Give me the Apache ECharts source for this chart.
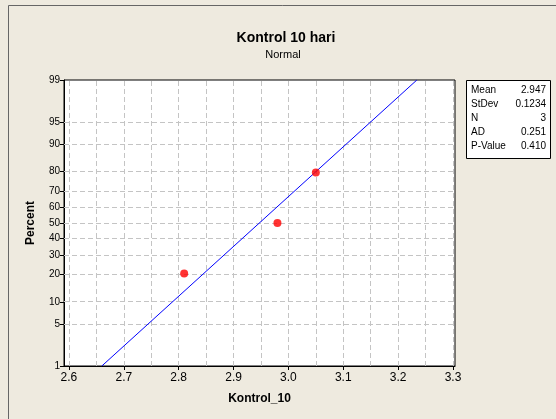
<!DOCTYPE html>
<html>
<head>
<meta charset="utf-8">
<script src="https://cdn.jsdelivr.net/npm/echarts@6/dist/echarts.min.js"></script>
<style>
  html, body { margin: 0; padding: 0; background: #EEEADF; }
  #chart { width: 556px; height: 419px; }
</style>
</head>
<body>
<div id="chart"></div>
<script>
// Normal probability plot of Kontrol_10
const chartTitle = 'Kontrol 10 hari';
const chartSubtitle = 'Normal';
const sampleX = [2.81, 2.98, 3.05];
const samplePct = [20.6, 50.0, 79.4];
const pctTicks = [1, 5, 10, 20, 30, 40, 50, 60, 70, 80, 90, 95, 99];
const xTicks = [2.6, 2.7, 2.8, 2.9, 3.0, 3.1, 3.2, 3.3];
const xGridLines = [2.6, 2.65, 2.7, 2.75, 2.8, 2.85, 2.9, 2.95, 3.0, 3.05, 3.1, 3.15, 3.2, 3.25, 3.3];
const statNames = ['Mean', 'StDev', 'N', 'AD', 'P-Value'];
const statValues = ['2.947', '0.1234', '3', '0.251', '0.410'];
const fitMean = 2.947;
const fitStDev = 0.1234;

// Inverse standard normal CDF (Acklam's rational approximation)
function probit(p) {
  const a = [-3.969683028665376e+01, 2.209460984245205e+02, -2.759285104469687e+02,
             1.383577518672690e+02, -3.066479806614716e+01, 2.506628277459239e+00];
  const b = [-5.447609879822406e+01, 1.615858368580409e+02, -1.556989798598866e+02,
             6.680131188771972e+01, -1.328068155288572e+01];
  const c = [-7.784894002430293e-03, -3.223964580411365e-01, -2.400758277161838e+00,
             -2.549732539343734e+00, 4.374664141464968e+00, 2.938163982698783e+00];
  const d = [7.784695709041462e-03, 3.224671290700398e-01, 2.445134137142996e+00,
             3.754408661907416e+00];
  const pl = 0.02425;
  let q, r;
  if (p < pl) {
    q = Math.sqrt(-2 * Math.log(p));
    return (((((c[0]*q+c[1])*q+c[2])*q+c[3])*q+c[4])*q+c[5]) /
           ((((d[0]*q+d[1])*q+d[2])*q+d[3])*q+1);
  }
  if (p > 1 - pl) {
    q = Math.sqrt(-2 * Math.log(1 - p));
    return -(((((c[0]*q+c[1])*q+c[2])*q+c[3])*q+c[4])*q+c[5]) /
            ((((d[0]*q+d[1])*q+d[2])*q+d[3])*q+1);
  }
  q = p - 0.5;
  r = q * q;
  return (((((a[0]*r+a[1])*r+a[2])*r+a[3])*r+a[4])*r+a[5])*q /
         (((((b[0]*r+b[1])*r+b[2])*r+b[3])*r+b[4])*r+1);
}
const z = pct => probit(pct / 100);

const yTickVals = pctTicks.map(z);
const yMin = z(pctTicks[0]);
const yMax = z(pctTicks[pctTicks.length - 1]);
const fitLine = [
  [fitMean + yMin * fitStDev, yMin],
  [fitMean + yMax * fitStDev, yMax]
];
const points = sampleX.map((x, i) => [x, z(samplePct[i])]);

const font = '"Liberation Sans", Arial, sans-serif';
const gridStyle = { color: '#c4c4c4', type: [5, 3], width: 1 };

const gridMarks = [];
xGridLines.forEach(v => gridMarks.push({ xAxis: v }));
pctTicks.slice(1, -1).forEach(p => gridMarks.push({ yAxis: z(p) }));

const statGraphics = [];
statNames.forEach((n, i) => {
  statGraphics.push({
    type: 'text', left: 471, top: 85 + i * 14,
    style: { text: n, font: '10px ' + font, fill: '#000' }, z: 10
  });
  statGraphics.push({
    type: 'text', right: 10, top: 85 + i * 14,
    style: { text: statValues[i], font: '10px ' + font, fill: '#000' }, z: 10
  });
});

const chart = echarts.init(document.getElementById('chart'), null, { renderer: 'canvas' });
chart.setOption({
  backgroundColor: '#EEEADF',
  animation: false,
  grid: {
    left: 64, top: 80, right: 101, bottom: 53,
    show: true, backgroundColor: '#ffffff', borderColor: '#000', borderWidth: 1
  },
  xAxis: {
    type: 'value', min: 2.591, max: 3.3036,
    name: 'Kontrol_10', nameLocation: 'middle', nameGap: 27,
    nameTextStyle: { fontFamily: font, fontWeight: 'bold', fontSize: 12, color: '#000' },
    axisLine: { onZero: false, lineStyle: { color: '#000' } },
    axisTick: { show: true, length: 4, customValues: xTicks, lineStyle: { color: '#000' } },
    axisLabel: { customValues: xTicks, formatter: v => v.toFixed(1),
      fontFamily: font, fontSize: 12, color: '#000', margin: 6 },
    splitLine: { show: false }
  },
  yAxis: {
    type: 'value', min: yMin, max: yMax,
    name: 'Percent', nameLocation: 'middle', nameGap: 27,
    nameTextStyle: { fontFamily: font, fontWeight: 'bold', fontSize: 12, color: '#000' },
    axisLine: { onZero: false, lineStyle: { color: '#000' } },
    axisTick: { show: true, length: 4, customValues: yTickVals, lineStyle: { color: '#000' } },
    axisLabel: {
      customValues: yTickVals,
      formatter: v => {
        let best = 0;
        yTickVals.forEach((t, i) => { if (Math.abs(t - v) < Math.abs(yTickVals[best] - v)) best = i; });
        return String(pctTicks[best]);
      },
      fontFamily: font, fontSize: 10, color: '#000', margin: 4
    },
    splitLine: { show: false }
  },
  series: [
    {
      type: 'line', data: fitLine, symbol: 'none', silent: true,
      lineStyle: { color: '#0000ff', width: 1 }, z: 3,
      markLine: {
        silent: true, symbol: 'none', label: { show: false },
        lineStyle: gridStyle, data: gridMarks, z: 1
      }
    },
    {
      type: 'scatter', data: points, symbol: 'circle', symbolSize: 8,
      itemStyle: { color: '#ff0000' }, z: 4
    }
  ],
  graphic: [
    { type: 'rect', shape: { x: 8.5, y: 5.5, width: 600, height: 500 },
      style: { fill: 'none', stroke: '#666', lineWidth: 1 }, z: -1 },
    { type: 'text', x: 286, y: 31,
      style: { text: chartTitle, font: 'bold 14px ' + font, fill: '#000', textAlign: 'center' } },
    { type: 'text', x: 283, y: 49,
      style: { text: chartSubtitle, font: '11px ' + font, fill: '#000', textAlign: 'center' } },
    { type: 'rect', shape: { x: 466.5, y: 80.5, width: 84, height: 78 },
      style: { fill: '#fff', stroke: '#000', lineWidth: 1 }, z: 5 }
  ].concat(statGraphics)
});
</script>
</body>
</html>
